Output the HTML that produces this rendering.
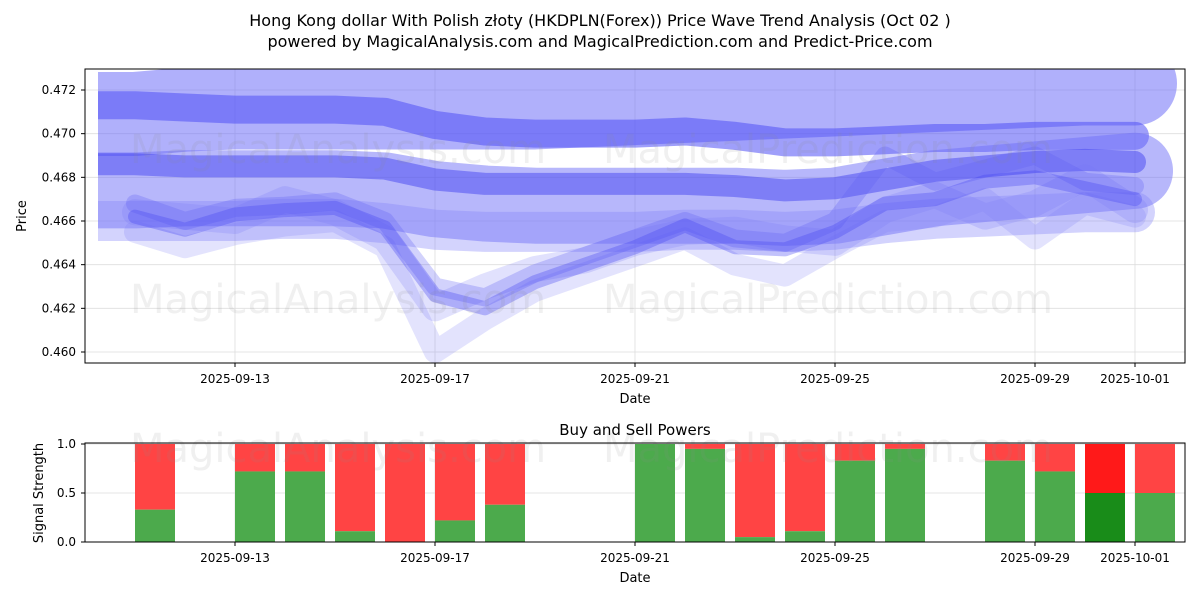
<!DOCTYPE html>
<html><head><meta charset="utf-8"><style>
body{margin:0;background:#fff;font-family:"Liberation Sans","DejaVu Sans",sans-serif}
svg text{font-family:"DejaVu Sans","Liberation Sans",sans-serif}
</style></head><body>
<svg id="c" width="1200" height="600" xmlns="http://www.w3.org/2000/svg">
<rect width="1200" height="600" fill="#fff"/>
<text x="600" y="26" text-anchor="middle" font-size="16">Hong Kong dollar With Polish złoty (HKDPLN(Forex)) Price Wave Trend Analysis (Oct 02 )</text>
<text x="600" y="47" text-anchor="middle" font-size="16">powered by MagicalAnalysis.com and MagicalPrediction.com and Predict-Price.com</text>
<g id="topPanel"></g>
<g id="botPanel"></g>
</svg>
<script>
const dates=['2025-09-11','2025-09-12','2025-09-13','2025-09-14','2025-09-15','2025-09-16','2025-09-17','2025-09-18','2025-09-19','2025-09-20','2025-09-21','2025-09-22','2025-09-23','2025-09-24','2025-09-25','2025-09-26','2025-09-27','2025-09-28','2025-09-29','2025-09-30','2025-10-01'];
const bandTop=[0.4709,0.4711,0.4712,0.4712,0.4712,0.4712,0.4712,0.4712,0.4712,0.4713,0.4714,0.4715,0.4716,0.4717,0.4718,0.4719,0.4720,0.4721,0.4722,0.4723,0.4723];
const bandTopDark=[0.4713,0.4712,0.4711,0.4711,0.4711,0.4710,0.4704,0.4701,0.4700,0.4700,0.4700,0.4701,0.4699,0.4696,0.4696,0.4697,0.4698,0.4698,0.4699,0.4699,0.4699];
const bandMid=[0.4674,0.4675,0.4675,0.4675,0.4675,0.4674,0.4670,0.4668,0.4667,0.4667,0.4667,0.4667,0.4667,0.4666,0.4667,0.4671,0.4675,0.4677,0.4679,0.4681,0.4683];
const bandMidDark=[0.4686,0.4685,0.4685,0.4685,0.4685,0.4684,0.4679,0.4677,0.4677,0.4677,0.4677,0.4677,0.4676,0.4674,0.4675,0.4679,0.4683,0.4685,0.4687,0.4688,0.4687];
const bandLow=[0.4660,0.4660,0.4660,0.4661,0.4661,0.4659,0.4656,0.4655,0.4655,0.4655,0.4655,0.4656,0.4656,0.4655,0.4656,0.4659,0.4661,0.4662,0.4663,0.4664,0.4664];
const wave1=[0.4662,0.4656,0.4663,0.4665,0.4666,0.4657,0.4626,0.4620,0.4632,0.4640,0.4648,0.4658,0.4648,0.4647,0.4655,0.4668,0.4670,0.4678,0.4680,0.4675,0.4670];
const wave2=[0.4668,0.4660,0.4666,0.4667,0.4669,0.4660,0.4630,0.4625,0.4636,0.4644,0.4652,0.4660,0.4652,0.4650,0.4660,0.4690,0.4678,0.4684,0.4690,0.4678,0.4676];
const wave3=[0.4655,0.4648,0.4654,0.4658,0.4660,0.4648,0.4600,0.4615,0.4628,0.4636,0.4644,0.4652,0.4640,0.4635,0.4648,0.4660,0.4662,0.4670,0.4652,0.4668,0.4662];
const wave4=[0.4664,0.4662,0.4660,0.4670,0.4664,0.4652,0.4620,0.4630,0.4638,0.4642,0.4650,0.4655,0.4656,0.4652,0.4650,0.4665,0.4672,0.4662,0.4668,0.4680,0.4665];
const yTicks=[0.460,0.462,0.464,0.466,0.468,0.470,0.472];
const xTickLabels=['2025-09-13','2025-09-17','2025-09-21','2025-09-25','2025-09-29','2025-10-01'];
const barDates2=['2025-09-11','2025-09-13','2025-09-14','2025-09-15','2025-09-16','2025-09-17','2025-09-18','2025-09-21','2025-09-22','2025-09-23','2025-09-24','2025-09-25','2025-09-26','2025-09-28','2025-09-29','2025-09-30','2025-10-01'];
const buyPower=[0.33,0.72,0.72,0.11,0.0,0.22,0.38,1.0,0.95,0.05,0.11,0.83,0.95,0.83,0.72,0.5,0.5];
const NS='http://www.w3.org/2000/svg';
const base=Date.UTC(2025,8,10);
function day(s){const p=s.split('-');return (Date.UTC(+p[0],+p[1]-1,+p[2])-base)/86400000;}
function X(s){return 85+day(s)*50;}
function Y(v){return 90+(0.472-v)*21833;}
function YB(v){return 542-v*98;}
function mk(t,a,parent){const e=document.createElementNS(NS,t);for(const k in a)e.setAttribute(k,a[k]);parent.appendChild(e);return e;}
const topG=document.getElementById('topPanel'),botG=document.getElementById('botPanel');
const defs=mk('defs',{},document.getElementById('c'));
const cp=mk('clipPath',{id:'cp'},defs);mk('rect',{x:85,y:69,width:1100,height:294},cp);
const cp2=mk('clipPath',{id:'cp2'},defs);mk('rect',{x:98,y:69,width:1087,height:294},cp2);
yTicks.forEach(v=>{const l=mk('line',{x1:85,x2:1185,y1:Y(v),y2:Y(v),stroke:'#ddd','stroke-width':0.8},topG);


const t=mk('text',{x:76,y:Y(v)+4,'text-anchor':'end','font-size':12},topG);t.textContent=v.toFixed(3);


mk('line',{x1:81,x2:85,y1:Y(v),y2:Y(v),stroke:'#000'},topG);});
xTickLabels.forEach(s=>{const l=mk('line',{x1:X(s),x2:X(s),y1:69,y2:363,stroke:'#ddd','stroke-width':0.8},topG);


mk('line',{x1:X(s),x2:X(s),y1:363,y2:367,stroke:'#000'},topG);
const t=mk('text',{x:X(s),y:383,'text-anchor':'middle','font-size':12},topG);t.textContent=s;


mk('line',{x1:X(s),x2:X(s),y1:443,y2:542,stroke:'#ddd','stroke-width':0.8},botG);
mk('line',{x1:X(s),x2:X(s),y1:542,y2:546,stroke:'#000'},botG);
const t2=mk('text',{x:X(s),y:562,'text-anchor':'middle','font-size':12},botG);t2.textContent=s;

});
const gBand=mk('g',{'clip-path':'url(#cp2)'},topG);
const g=mk('g',{'clip-path':'url(#cp)'},topG);
function band(vals,w,col,op,name,lead){
let pts=vals.map((v,i)=>X(dates[i])+','+Y(v));
if(lead)pts.unshift((X(dates[0])-40)+','+Y(vals[0]));
const p=mk('polyline',{points:pts.join(' '),fill:'none',stroke:col,'stroke-width':w,'stroke-opacity':op,'stroke-linejoin':'round','stroke-linecap':'round'},lead?gBand:g);

}
band(bandTop,84,'#6f6ff8',0.55,'wave-band-top',true);
band(bandTopDark,28,'#5050f5',0.55,'wave-band-top-dark',true);
band(bandMid,76,'#7070f8',0.5,'wave-band-mid',true);
band(bandMidDark,22,'#3a3af0',0.45,'wave-band-mid-dark',true);
band(bandLow,40,'#8080f8',0.35,'wave-band-low',true);
band(wave4,26,'#7878f8',0.22,'wave-line-4',false);
band(wave3,22,'#8080f8',0.22,'wave-line-3',false);
band(wave2,18,'#5c5cf6',0.28,'wave-line-2',false);
band(wave1,14,'#4040f2',0.32,'wave-line-1',false);
[['MagicalAnalysis.com',130,163],['MagicalPrediction.com',603,163],['MagicalAnalysis.com',130,313],['MagicalPrediction.com',603,313]].forEach(w=>{const t=mk('text',{x:w[1],y:w[2],'font-size':40,fill:'#888','fill-opacity':0.13},topG);t.textContent=w[0];

});
mk('rect',{x:85,y:69,width:1100,height:294,fill:'none',stroke:'#000','stroke-width':1},topG);
let t=mk('text',{x:635,y:403,'text-anchor':'middle','font-size':13},topG);t.textContent='Date';


t=mk('text',{x:26,y:216,'text-anchor':'middle','font-size':13,transform:'rotate(-90 26 216)'},topG);t.textContent='Price';


t=mk('text',{x:635,y:435,'text-anchor':'middle','font-size':15},botG);t.textContent='Buy and Sell Powers';


[0,0.5,1].forEach(v=>{mk('line',{x1:85,x2:1185,y1:YB(v),y2:YB(v),stroke:'#ddd','stroke-width':0.8},botG);mk('line',{x1:81,x2:85,y1:YB(v),y2:YB(v),stroke:'#000'},botG);
const tt=mk('text',{x:76,y:YB(v)+4,'text-anchor':'end','font-size':12},botG);tt.textContent=v.toFixed(1);

});
buyPower.forEach((v,i)=>{const s=barDates2[i];const dark=s==='2025-09-30';
const r=mk('rect',{x:X(s),y:YB(1),width:40,height:YB(v)-YB(1),fill:dark?'#ff0000':'#ff4444','fill-opacity':dark?0.9:1},botG);


const b=mk('rect',{x:X(s),y:YB(v),width:40,height:542-YB(v),fill:dark?'#008000':'#4caa4c','fill-opacity':dark?0.9:1},botG);

});
[['MagicalAnalysis.com',130,462],['MagicalPrediction.com',603,462]].forEach(w=>{const tt=mk('text',{x:w[1],y:w[2],'font-size':40,fill:'#888','fill-opacity':0.13},botG);tt.textContent=w[0];

});
mk('rect',{x:85,y:443,width:1100,height:99,fill:'none',stroke:'#000','stroke-width':1},botG);
t=mk('text',{x:635,y:582,'text-anchor':'middle','font-size':13},botG);t.textContent='Date';


t=mk('text',{x:43,y:493,'text-anchor':'middle','font-size':13,transform:'rotate(-90 43 493)'},botG);t.textContent='Signal Strength';


</script>
</body></html>
